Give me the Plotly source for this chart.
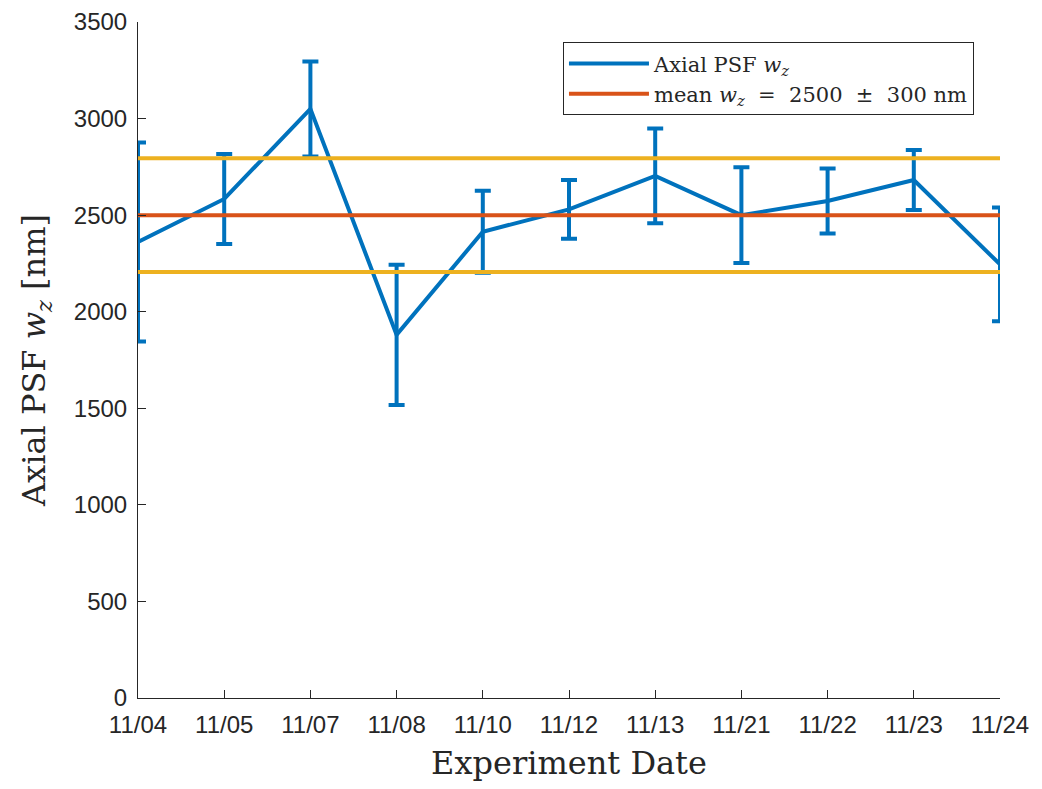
import plotly.graph_objects as go

dates = ["11/04", "11/05", "11/07", "11/08", "11/10", "11/12", "11/13", "11/21", "11/22", "11/23", "11/24"]
wz = [2361, 2584, 3050, 1880, 2414, 2530, 2703, 2500, 2573, 2682, 2245]
wz_err = [515, 233, 246, 363, 212, 152, 245, 248, 168, 155, 295]
mean_wz = 2500
std_wz = 295

xs = list(range(len(dates)))

fig = go.Figure()
fig.add_trace(go.Scatter(
    x=xs, y=wz, mode="lines",
    line=dict(color="#0072BD", width=4),
    error_y=dict(type="data", array=wz_err, visible=True, color="#0072BD", thickness=4, width=8),
    name="Axial PSF <i>w<sub>z</sub></i>",
    cliponaxis=False,
))
fig.add_trace(go.Scatter(
    x=[xs[0], xs[-1]], y=[mean_wz, mean_wz], mode="lines",
    line=dict(color="#D95319", width=4),
    name="mean <i>w<sub>z</sub></i>  =  2500  ±  300 nm",
))
fig.add_trace(go.Scatter(
    x=[xs[0], xs[-1]], y=[mean_wz + std_wz, mean_wz + std_wz], mode="lines",
    line=dict(color="#EDB120", width=4), showlegend=False,
))
fig.add_trace(go.Scatter(
    x=[xs[0], xs[-1]], y=[mean_wz - std_wz, mean_wz - std_wz], mode="lines",
    line=dict(color="#EDB120", width=4), showlegend=False,
))

tick_font = dict(family="Liberation Sans, Arial, sans-serif", size=24, color="#262626")
title_font = dict(family="DejaVu Serif, serif", size=32, color="#262626")

fig.update_layout(
    width=1042, height=789,
    margin=dict(l=130, r=50, t=14, b=99),
    paper_bgcolor="white", plot_bgcolor="white",
    xaxis=dict(
        range=[0, 10], tickmode="array", tickvals=xs, ticktext=dates,
        showgrid=False, zeroline=False, showline=True, linecolor="#262626", linewidth=1,
        ticks="inside", ticklen=8, tickcolor="#262626", tickfont=tick_font,
        ticklabelstandoff=5, automargin=False,
        title=dict(text="Experiment Date", font=title_font, standoff=14),
    ),
    yaxis=dict(
        range=[0, 3500], tickmode="array", tickvals=list(range(0, 3501, 500)),
        showgrid=False, zeroline=False, showline=True, linecolor="#262626", linewidth=1,
        ticks="inside", ticklen=8, tickcolor="#262626", tickfont=tick_font,
        ticklabelstandoff=5, automargin=False,
        title=dict(text="Axial PSF <i>w<sub>z</sub></i> [nm]", font=title_font, standoff=18),
    ),
    legend=dict(
        x=0.493, y=0.970, xanchor="left", yanchor="top",
        bgcolor="white", bordercolor="#262626", borderwidth=1,
        font=dict(family="DejaVu Serif, serif", size=21, color="#262626"),
        tracegroupgap=0, itemwidth=80,
    ),
    showlegend=True,
)

fig.write_html("out.html")
